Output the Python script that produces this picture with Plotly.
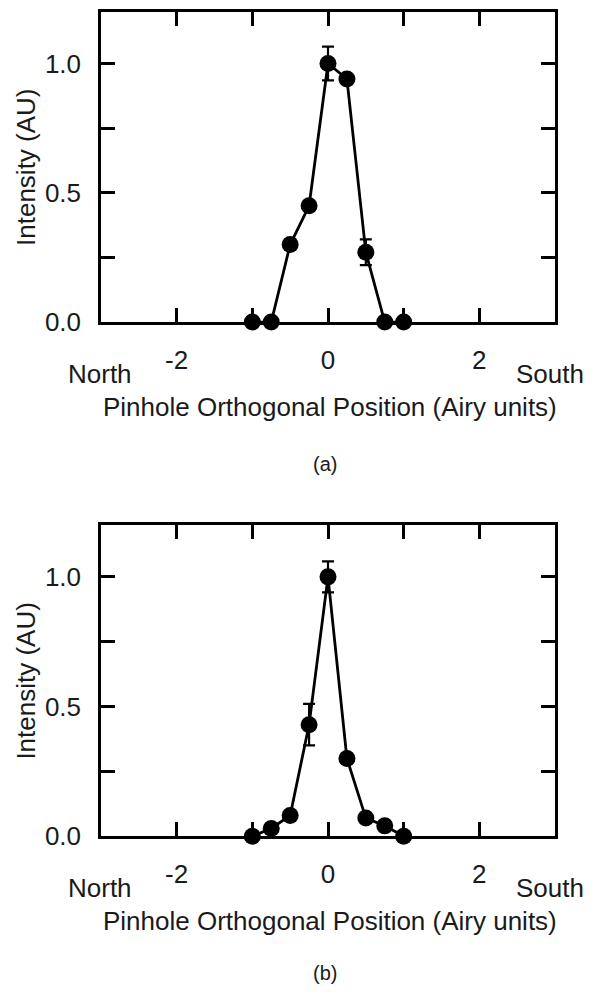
import plotly.graph_objects as go

# pinhole positions (Airy units)
posicoes = [-1, -0.75, -0.5, -0.25, 0, 0.25, 0.5, 0.75, 1]

# panel (a)
intensidade_a = [0, 0, 0.30, 0.45, 1.0, 0.94, 0.27, 0, 0]
erro_a = [0, 0, 0.02, 0, 0.065, 0, 0.05, 0, 0]

# panel (b)
intensidade_b = [0, 0.03, 0.08, 0.43, 1.0, 0.30, 0.07, 0.04, 0]
erro_b = [0, 0, 0, 0.08, 0.06, 0, 0, 0, 0]

W, H = 600, 998
FONTE = "Liberation Sans, Arial, sans-serif"
COR_TXT = "#1a1a1a"


def px_x(v):
    return v / W


def px_y(v):
    return 1 - v / H


fig = go.Figure()

for dados, erro, xa, ya in [(intensidade_a, erro_a, "x", "y"), (intensidade_b, erro_b, "x2", "y2")]:
    fig.add_trace(go.Scatter(
        x=posicoes, y=dados,
        mode="lines+markers",
        line=dict(color="black", width=2.8),
        marker=dict(color="black", size=17),
        error_y=dict(type="data", array=erro, visible=True, color="black", thickness=2.2, width=6),
        xaxis=xa, yaxis=ya,
        cliponaxis=False,
        showlegend=False
    ))

eixo_x = dict(
    range=[-3, 3], tickmode="array", tickvals=[-2, 0, 2], ticktext=["-2", "0", "2"],
    ticks="inside", ticklen=14, tickwidth=2.5, tickcolor="black",
    minor=dict(tickmode="array", tickvals=[-1, 1], ticks="inside", ticklen=14, tickwidth=2.5, tickcolor="black"),
    showline=True, linecolor="black", linewidth=2.5, mirror="ticks",
    showgrid=False, zeroline=False, ticklabelstandoff=13,
    tickfont=dict(family=FONTE, size=26, color=COR_TXT)
)
eixo_y = dict(
    range=[0, 1.2], tickmode="array", tickvals=[0, 0.5, 1.0], ticktext=["0.0", "0.5", "1.0"],
    ticks="inside", ticklen=14, tickwidth=2.5, tickcolor="black",
    minor=dict(tickmode="array", tickvals=[0.25, 0.75], ticks="inside", ticklen=14, tickwidth=2.5, tickcolor="black"),
    showline=True, linecolor="black", linewidth=2.5, mirror="ticks",
    showgrid=False, zeroline=False, ticklabelstandoff=12,
    tickfont=dict(family=FONTE, size=26, color=COR_TXT)
)

dom_x = [px_x(101), px_x(555)]
paineis = [(12, 327, "(a)", 471), (533, 849, "(b)", 988)]

anotacoes = []
for topo, base, letra, y_letra in paineis:
    meio = (topo + base) / 2
    anotacoes += [
        dict(text="North", x=px_x(100), y=px_y(base + 53)),
        dict(text="South", x=px_x(550), y=px_y(base + 53)),
        dict(text="Pinhole Orthogonal Position (Airy units)", x=px_x(330), y=px_y(base + 86)),
        dict(text=letra, x=px_x(325), y=px_y(y_letra), font=dict(family=FONTE, size=20, color=COR_TXT)),
        dict(text="Intensity (AU)", x=px_x(26), y=px_y(meio), textangle=-90),
    ]
for a in anotacoes:
    a.update(xref="paper", yref="paper", showarrow=False, xanchor="center", yanchor="middle")
    a.setdefault("font", dict(family=FONTE, size=26, color=COR_TXT))

fig.update_layout(
    width=W, height=H,
    margin=dict(l=0, r=0, t=0, b=0),
    paper_bgcolor="white", plot_bgcolor="white",
    xaxis=dict(eixo_x, domain=dom_x, anchor="y"),
    yaxis=dict(eixo_y, domain=[px_y(327), px_y(12)], anchor="x"),
    xaxis2=dict(eixo_x, domain=dom_x, anchor="y2"),
    yaxis2=dict(eixo_y, domain=[px_y(849), px_y(533)], anchor="x2"),
    annotations=anotacoes,
    showlegend=False
)

# page body has a default 8px margin; drop it so the figure sits at the window origin
fig.write_html("out.html", config={"displayModeBar": False},
               post_script="document.body.style.margin='0';")
